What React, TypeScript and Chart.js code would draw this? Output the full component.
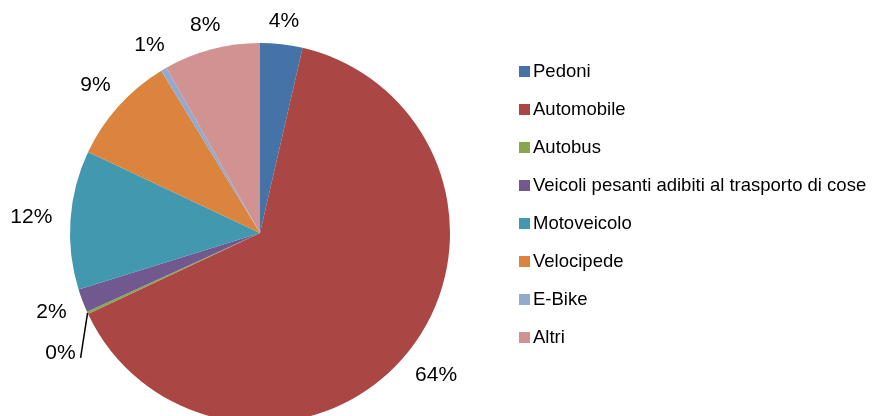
import React, { useEffect, useRef } from "react";
import { Chart, registerables } from "chart.js";

Chart.register(...registerables);

const categories = [
  "Pedoni",
  "Automobile",
  "Autobus",
  "Veicoli pesanti adibiti al trasporto di cose",
  "Motoveicolo",
  "Velocipede",
  "E-Bike",
  "Altri",
];
const shares = [3.6, 64.4, 0.2, 2.0, 11.8, 9.3, 0.5, 8.2];
const colors = ["#4572A7", "#AA4643", "#89A54E", "#71588F", "#4198AF", "#DB843D", "#93A9CF", "#D19392"];

const FONT = '"Liberation Sans", Arial, sans-serif';

const labelPlugin = {
  id: "outLabels",
  afterDatasetsDraw(chart: any) {
    const ctx = chart.ctx;
    const meta = chart.getDatasetMeta(0);
    const data = chart.data.datasets[0].data as number[];
    ctx.save();
    ctx.font = `21px ${FONT}`;
    ctx.fillStyle = "#000";
    meta.data.forEach((arc: any, i: number) => {
      const p = arc.getProps(["x", "y", "startAngle", "endAngle", "outerRadius"], true);
      const mid = (p.startAngle + p.endAngle) / 2;
      const c = Math.cos(mid);
      const s = Math.sin(mid);
      const txt = Math.round(data[i]) + "%";
      const w = ctx.measureText(txt).width;
      if (data[i] < 0.5) {
        const ax = p.x + c * p.outerRadius;
        const ay = p.y + s * p.outerRadius;
        const ex = ax - 7;
        const ey = ay + 45;
        ctx.strokeStyle = "#000";
        ctx.lineWidth = 1.5;
        ctx.beginPath();
        ctx.moveTo(ax, ay);
        ctx.lineTo(ex, ey);
        ctx.stroke();
        ctx.textAlign = "right";
        ctx.textBaseline = "middle";
        ctx.fillText(txt, ex - 5, ey - 5);
        return;
      }
      const h = 6;
      const d = p.outerRadius + 18 + Math.abs(c) * w / 2 + Math.abs(s) * h / 2;
      ctx.textAlign = "center";
      ctx.textBaseline = "middle";
      ctx.fillText(txt, p.x + c * d, p.y + s * d);
    });
    ctx.restore();
  },
};

const legendPlugin = {
  id: "sideLegend",
  afterDraw(chart: any) {
    const ctx = chart.ctx;
    const labels = chart.data.labels as string[];
    const bg = chart.data.datasets[0].backgroundColor as string[];
    ctx.save();
    ctx.font = `18.5px ${FONT}`;
    ctx.textAlign = "left";
    ctx.textBaseline = "middle";
    labels.forEach((lab, i) => {
      const top = 66 + i * 38;
      ctx.fillStyle = bg[i];
      ctx.fillRect(519, top, 11, 11);
      ctx.fillStyle = "#000";
      ctx.fillText(lab, 533, top + 6);
    });
    ctx.restore();
  },
};

export default function App() {
  const ref = useRef<HTMLCanvasElement | null>(null);
  useEffect(() => {
    if (!ref.current) return;
    const chart = new Chart(ref.current, {
      type: "pie",
      data: {
        labels: categories,
        datasets: [
          {
            data: shares,
            backgroundColor: colors,
            borderWidth: 0,
          },
        ],
      },
      options: {
        responsive: false,
        animation: false,
        devicePixelRatio: 1,
        layout: { padding: { left: 70, top: 43, right: 422, bottom: 47 } },
        plugins: {
          legend: { display: false },
          tooltip: { enabled: false },
        },
      },
      plugins: [labelPlugin, legendPlugin],
    });
    return () => chart.destroy();
  }, []);
  return (
    <div style={{ position: "fixed", left: 0, top: 0, width: 872, height: 416, overflow: "hidden", background: "#fff" }}>
      <canvas ref={ref} width={872} height={470} style={{ display: "block" }} />
    </div>
  );
}
